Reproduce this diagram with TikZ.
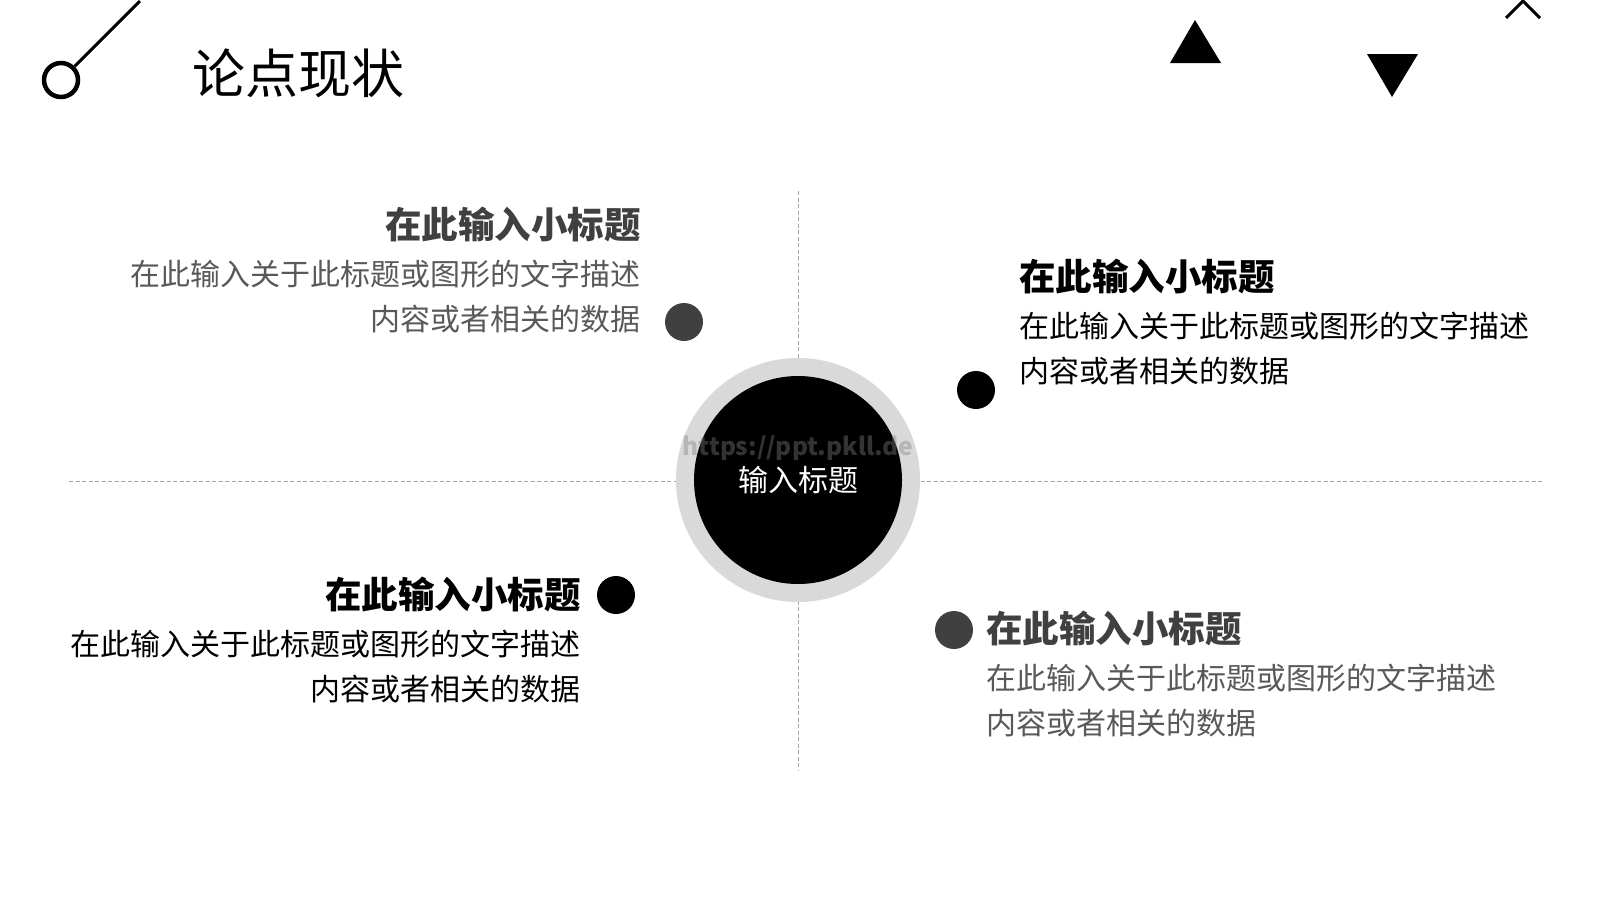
\documentclass[tikz,border=0pt]{standalone}
\usepackage{fontspec}
\newfontfamily\cjk{Noto Sans CJK SC}
\setmainfont{Noto Sans CJK SC}
\definecolor{darkgr}{HTML}{404040}
\definecolor{midgr}{HTML}{595959}
\definecolor{ringgr}{HTML}{D9D9D9}
\definecolor{dashgr}{HTML}{A6A6A6}
\tikzset{
  x=1pt, y=-1pt,
  guide/.style={draw=dashgr, line width=1pt, dash pattern=on 4pt off 2.5pt},
  subtitle/.style={inner sep=0pt, font=\cjk\bfseries\fontsize{36.5}{40}\selectfont},
  desc/.style={inner sep=0pt, font=\cjk\fontsize{30}{45}\selectfont},
  dot/.style={circle, inner sep=0pt, minimum size=38pt},
}
\begin{document}
\begin{tikzpicture}
\useasboundingbox[fill=white] (0,0) rectangle (1600,900);
% guides
\coordinate (hl) at (69,481);
\coordinate (hr) at (1543,481);
\coordinate (vt) at (798,191);
\coordinate (vb) at (798,770);
\draw[guide] (hl) -- (hr);
\draw[guide] (vt) -- (vb);
% header decoration
\node[circle, draw=black, line width=4.5pt, minimum size=34pt, inner sep=0pt] (ring) at (61,80) {};
\coordinate (stick) at (140,1);
\draw[line width=3pt] (ring.45) -- (stick);
\node[anchor=west, inner sep=0pt, font=\cjk\fontsize{53}{60}\selectfont] (title) at (192,73) {论点现状};
\fill (1195,20) -- (1221,63) -- (1170,63) -- cycle;
\fill (1367,54) -- (1418,54) -- (1392,97) -- cycle;
\draw[line width=3pt] (1506,18) -- (1523,1) -- (1540,18);
% center
\node[circle, fill=ringgr, minimum size=244pt, inner sep=0pt] (outer) at (798,480) {};
\node[circle, fill=black, minimum size=208pt, inner sep=0pt, text=white, font=\cjk\fontsize{30}{34}\selectfont] (center) at (798,480) {输入标题};
\node[text=gray, opacity=0.4, text opacity=0.4, inner sep=0pt, font=\bfseries\fontsize{24.5}{28}\selectfont] (wm) at (798,448) {https://ppt.pkll.de};
% top-left
\node[subtitle, text=darkgr, anchor=east] (t1) at (641,224) {在此输入小标题};
\node[desc, text=midgr, anchor=east, align=right] (d1) at (641,297) {在此输入关于此标题或图形的文字描述\\内容或者相关的数据};
\node[dot, fill=darkgr] (p1) at (684,322) {};
% top-right
\node[subtitle, text=black, anchor=west] (t2) at (1019,276) {在此输入小标题};
\node[desc, text=black, anchor=west, align=left] (d2) at (1019,349) {在此输入关于此标题或图形的文字描述\\内容或者相关的数据};
\node[dot, fill=black] (p2) at (976,390) {};
% bottom-left
\node[subtitle, text=black, anchor=east] (t3) at (581,594) {在此输入小标题};
\node[desc, text=black, anchor=east, align=right] (d3) at (581,667) {在此输入关于此标题或图形的文字描述\\内容或者相关的数据};
\node[dot, fill=black] (p3) at (616,595) {};
% bottom-right
\node[subtitle, text=darkgr, anchor=west] (t4) at (986,628) {在此输入小标题};
\node[desc, text=midgr, anchor=west, align=left] (d4) at (986,701) {在此输入关于此标题或图形的文字描述\\内容或者相关的数据};
\node[dot, fill=darkgr] (p4) at (954,630) {};
\end{tikzpicture}
\end{document}
